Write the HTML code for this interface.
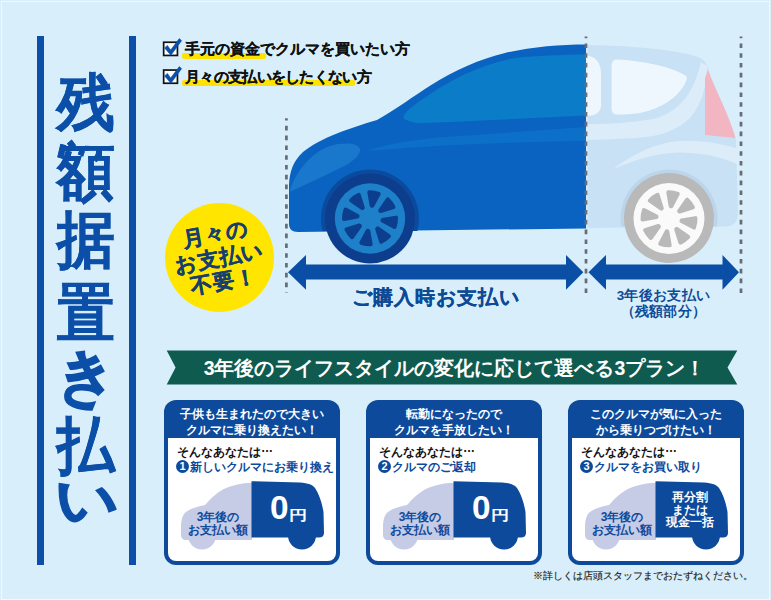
<!DOCTYPE html>
<html lang="ja">
<head>
<meta charset="utf-8">
<style>
html,body{margin:0;padding:0;}
body{width:771px;height:600px;position:relative;overflow:hidden;background:#d8effb;font-family:"Liberation Sans",sans-serif;}
.abs{position:absolute;}
.frame{position:absolute;left:1px;top:1px;width:769px;height:599px;border:1px solid #eafafd;box-sizing:border-box;}
.bar{position:absolute;top:36px;width:7px;height:529px;background:#0b4fa8;}
.title{position:absolute;left:52px;top:69px;width:68px;font-size:62px;line-height:68.5px;transform:scaleX(0.93);transform-origin:34px 0;-webkit-text-stroke:0.5px #0b4fa8;font-weight:bold;color:#0b4fa8;text-align:center;}
.hl{position:absolute;background:#ffe300;height:5.5px;border-radius:2px;}
.ln{position:absolute;left:185px;font-size:15px;font-weight:bold;color:#111;-webkit-text-stroke:0.2px #111;white-space:nowrap;line-height:18px;}
.card{position:absolute;top:400px;width:176px;height:164.5px;border-radius:12px;background:#0d4a9c;}
.card .wb{position:absolute;left:4px;top:37.5px;right:4px;bottom:4px;background:#fff;border-radius:0 0 8px 8px;}
.card .hd{position:absolute;left:0;top:0;width:100%;height:34px;color:#fff;font-size:12px;font-weight:bold;line-height:15.5px;text-align:center;padding-top:7px;box-sizing:border-box;}
.card .t1{position:absolute;left:13px;top:43.5px;font-size:12px;font-weight:bold;color:#111;white-space:nowrap;line-height:16px;}
.card .t2{position:absolute;left:12px;top:58.5px;font-size:12px;font-weight:bold;color:#0d4a9c;white-space:nowrap;line-height:16px;}
.num{display:inline-block;width:13px;height:13px;border-radius:50%;background:#0d4a9c;color:#fff;font-size:11px;line-height:13px;text-align:center;vertical-align:1px;margin-right:1px;}
.zero{position:absolute;font-size:34px;font-weight:bold;color:#fff;line-height:34px;transform:scaleX(0.98);transform-origin:0 0;}
.yen{position:absolute;font-size:14px;font-weight:bold;color:#fff;line-height:14px;transform:translateY(1px) scaleX(1.3);transform-origin:0 0;}
.lav{position:absolute;font-size:12px;font-weight:bold;color:#0d4a9c;line-height:12px;text-align:center;white-space:nowrap;}
</style>
</head>
<body>
<div class="frame"></div>

<!-- title -->
<div class="bar" style="left:37px"></div>
<div class="bar" style="left:129px"></div>
<div class="title">残<br>額<br>据<br><span style="position:relative;top:4px">置</span><br><span style="-webkit-text-stroke:1.8px #0b4fa8">き</span><br>払<br><span style="display:inline-block;transform:translateY(-14px) scale(1.08,0.85);-webkit-text-stroke:1.8px #0b4fa8">い</span></div>

<!-- check lines -->
<div class="hl" style="left:182px;top:52.8px;width:84px;height:6.5px;"></div>
<div class="hl" style="left:182px;top:80px;width:173px;"></div>
<svg class="abs" style="left:0;top:0" width="771" height="600" viewBox="0 0 771 600">
  <rect x="163.65" y="42.25" width="13.8" height="13.2" fill="#fff" stroke="#111" stroke-width="1.7"/>
  <rect x="163.65" y="70.05" width="13.8" height="13.2" fill="#fff" stroke="#111" stroke-width="1.7"/>
  <path d="M164.6,47.9 L167.4,45.4 L170.7,50 L179.3,38.6 L181.6,40.7 L170.9,55.3 Z" fill="#0b4fa8" stroke="#0b4fa8" stroke-width="0.6" stroke-linejoin="round"/>
  <path d="M164.6,75.9 L167.4,73.4 L170.7,78 L179.3,66.6 L181.6,68.7 L170.9,83.3 Z" fill="#0b4fa8" stroke="#0b4fa8" stroke-width="0.6" stroke-linejoin="round"/>
</svg>
<div class="ln" style="top:40px">手元の資金でクルマを買いたい方</div>
<div class="ln" style="top:67.5px;letter-spacing:-0.7px">月々の支払いをしたくない方</div>

<!-- car -->
<svg class="abs" style="left:0;top:0" width="771" height="600" viewBox="0 0 771 600">
  <!-- rear body -->
  <path d="M585,45 C630,45.5 680,50 698,57 C703,59 706,62 708,68 C715,90 728,112 736,140 L738,214 C738,222 733,226.5 726,226.5 L585,228 Z" fill="#c8e1f5"/>
  <path d="M586,124.2 C615,124 638,122 655,118.5 C678,112 694,94 701,62 L707,66 C707,85 702,104 690,118 C676,131 660,135.5 648,136.7 C630,138.5 610,139.5 586,139.8 Z" fill="#dcedf9"/>
  <path d="M613,169 C635,153 655,143 680,141 C705,140 725,145 739,149 L739,165 C725,158 705,153 680,152.5 C655,153 635,160 613,169 Z" fill="#dcedf9"/>
  <path d="M617,59.5 C645,61 672,67 686,76 C688,78 686,82 683,87 C676,98 662,108 640,113 C630,114.5 622,114.5 617,114.5 C613.5,114.5 611.5,112 611.5,108 L611.5,66 C611.5,62 613.5,59.5 617,59.5 Z" fill="#eef7fd"/>
  <path d="M586,55 C596,57 601,62 601,75 L601,105 C601,112 596,116 586,116 Z" fill="#eef7fd"/>
  <path d="M708,70 C716,92 728,112 735.5,138 L705,135 L705,78 Z" fill="#f2b6c2"/>
  <!-- rear wheel -->
  <clipPath id="archclip2"><rect x="600" y="150" width="150" height="76.5"/></clipPath>
  <circle cx="669" cy="218" r="48.5" fill="#bdd5ea" clip-path="url(#archclip2)"/>
  <circle cx="669" cy="218" r="45" fill="#b9b9b9"/>
  <circle cx="669" cy="218.5" r="35.5" fill="#fafafa"/>
  <path d="M671.3,206.3 L677.8,193.8 A26.5,26.5 0 0 0 668.3,192.3 L670.7,206.2 Z M661.8,208.3 L657.6,194.9 A26.5,26.5 0 0 0 649.8,200.6 L661.3,208.7 Z M656.5,216.5 L644.0,210.0 A26.5,26.5 0 0 0 642.5,219.5 L656.4,217.1 Z M658.5,226.0 L645.1,230.2 A26.5,26.5 0 0 0 650.8,238.0 L658.9,226.5 Z M666.7,231.3 L660.2,243.8 A26.5,26.5 0 0 0 669.7,245.3 L667.3,231.4 Z M676.2,229.3 L680.4,242.7 A26.5,26.5 0 0 0 688.2,237.0 L676.7,228.9 Z M681.5,221.1 L694.0,227.6 A26.5,26.5 0 0 0 695.5,218.1 L681.6,220.5 Z M679.5,211.6 L692.9,207.4 A26.5,26.5 0 0 0 687.2,199.6 L679.1,211.1 Z" fill="#b9b9b9" stroke="#b9b9b9" stroke-width="4" stroke-linejoin="round"/>

  <!-- front body -->
  <path d="M586,44.5 C560,44.5 530,47 505,53 C480,59 455,70 430,85.7 C415,95 395,110 377,120 C350,128 320,138 303,152 C293,161 289.5,172 289,185 L289,224 C289,229 292,232 298,232 L586,228.4 Z" fill="#0a63c0"/>
  <path d="M586,54.4 C560,54.5 535,56 519,57.4 C500,60 480,67 459.5,76.8 C440,87 420,100 408.8,109.6 C404,114 402,118 405,119.5 C410,122 415,123 421,123.3 L586,115.6 Z" fill="#0b7cc8"/>
  <path d="M366,151 C390,143 420,139 445,137 L586,127 L586,141 C520,142 460,144 420,147 C400,148.5 380,150 366,151 Z" fill="#0c70c9"/>
  <path d="M289.5,192 C295,172 312,152 330,146 C345,142 357,143 360,149 C361,155 352,163 338,169 C322,177 302,186 289.5,192 Z" fill="#1a78cc"/>
  <!-- front wheel -->
  <clipPath id="archclip"><rect x="300" y="150" width="150" height="81"/></clipPath>
  <circle cx="370" cy="218.5" r="49" fill="#0b4b9e" clip-path="url(#archclip)"/>
  <circle cx="370" cy="218.5" r="45" fill="#0c3e8d"/>
  <circle cx="370" cy="218.5" r="35.2" fill="#1e80c8"/>
  <path d="M372.3,205.8 L378.7,193.8 A26.0,26.0 0 0 0 369.3,192.3 L371.7,205.7 Z M362.8,207.8 L358.8,194.8 A26.0,26.0 0 0 0 351.1,200.4 L362.3,208.2 Z M357.5,216.0 L345.5,209.6 A26.0,26.0 0 0 0 344.0,219.0 L357.4,216.6 Z M359.5,225.5 L346.5,229.5 A26.0,26.0 0 0 0 352.1,237.2 L359.9,226.0 Z M367.7,230.8 L361.3,242.8 A26.0,26.0 0 0 0 370.7,244.3 L368.3,230.9 Z M377.2,228.8 L381.2,241.8 A26.0,26.0 0 0 0 388.9,236.2 L377.7,228.4 Z M382.5,220.6 L394.5,227.0 A26.0,26.0 0 0 0 396.0,217.6 L382.6,220.0 Z M380.5,211.1 L393.5,207.1 A26.0,26.0 0 0 0 387.9,199.4 L380.1,210.6 Z" fill="#0c3e8d" stroke="#0c3e8d" stroke-width="4" stroke-linejoin="round"/>

  <line x1="587" y1="46" x2="587" y2="227.5" stroke="#dff2fc" stroke-width="1"/>
  <!-- dotted lines -->
  <g stroke="#666c74" stroke-width="2.7" stroke-dasharray="4.6 5.2">
    <line x1="286.4" y1="118.3" x2="286.4" y2="293" stroke-dashoffset="2.3"/>
    <line x1="586" y1="36.5" x2="586" y2="293" stroke-dashoffset="2.9"/>
    <line x1="741" y1="36.5" x2="741" y2="293" stroke-dashoffset="2.9"/>
  </g>

  <!-- arrows -->
  <path d="M288,272.3 L306,255 L306,264.5 L566,264.5 L566,255 L583.3,272.3 L566,289.8 L566,279.5 L306,279.5 L306,289.8 Z" fill="#0a4ea6"/>
  <path d="M588.5,272.3 L606,255 L606,264.5 L722.5,264.5 L722.5,255 L739,272.3 L722.5,289.8 L722.5,279.5 L606,279.5 L606,289.8 Z" fill="#0a4ea6"/>

  <!-- yellow badge -->
  <circle cx="219.5" cy="257.5" r="54.5" fill="#ffe500"/>

  <!-- banner -->
  <path d="M166.7,350.4 L737.3,350.4 L727.5,367.5 L737.3,384.6 L166.7,384.6 L175.6,367.5 Z" fill="#0f5b50"/>
</svg>

<div class="abs" style="left:288px;width:296px;top:285px;text-align:center;font-size:20px;font-weight:bold;color:#0d4a96;line-height:24px;letter-spacing:1.1px;-webkit-text-stroke:0.25px #0d4a96;">ご購入時お支払い</div>
<div class="abs" style="left:588px;width:151px;top:288px;text-align:center;font-size:13.5px;font-weight:bold;color:#0d4a96;line-height:16px;letter-spacing:0.3px;">3年後お支払い<br>（残額部分）</div>

<div class="abs" style="left:165px;top:203px;width:109px;height:109px;transform:rotate(-10deg);text-align:center;font-size:21.5px;font-weight:bold;color:#173f6e;line-height:24px;padding-top:19px;-webkit-text-stroke:0.35px #173f6e;letter-spacing:0px;box-sizing:border-box;">月々の<br>お支払い<br>不要！</div>

<div class="abs" style="left:169px;width:571px;top:355px;text-align:center;font-size:19.5px;font-weight:bold;color:#fff;line-height:26px;">3年後のライフスタイルの変化に応じて選べる3プラン！</div>

<!-- cards -->
<div class="card" style="left:164px;">
  <div class="wb"></div><div class="hd">子供も生まれたので大きい<br>クルマに乗り換えたい！</div>
  <div class="t1">そんなあなたは<span style="position:relative;top:-3.5px">…</span></div>
  <div class="t2"><span class="num">1</span>新しいクルマにお乗り換え</div>
</div>
<div class="card" style="left:366px;">
  <div class="wb"></div><div class="hd">転勤になったので<br>クルマを手放したい！</div>
  <div class="t1">そんなあなたは<span style="position:relative;top:-3.5px">…</span></div>
  <div class="t2"><span class="num">2</span>クルマのご返却</div>
</div>
<div class="card" style="left:568px;">
  <div class="wb"></div><div class="hd">このクルマが気に入った<br>から乗りつづけたい！</div>
  <div class="t1">そんなあなたは<span style="position:relative;top:-3.5px">…</span></div>
  <div class="t2"><span class="num">3</span>クルマをお買い取り</div>
</div>


<svg class="abs" style="left:0;top:0" width="771" height="600" viewBox="0 0 771 600">
  <defs>
    <g id="sil">
      <path d="M252,482.7 C240,483 225,486 215,495 C210,499 207,503 205,505 C195,507 187,510 184,514 C181.5,518 181,522 181,527 L181,535 C181,538 183,540 186,540 L252,540 Z" fill="#c6cbe6"/>
      <circle cx="202" cy="535.5" r="14" fill="#c6cbe6"/>
      <path d="M251.5,481.2 L300,482.5 C308,483 313,485 315,488 C319,494 322,503 323.5,512 L324,533 C324,536 322,537.5 319,537.5 L251.5,537.5 Z" fill="#0d4a9c"/>
      <circle cx="302" cy="535.5" r="14" fill="#0d4a9c"/>
    </g>
  </defs>
  <use href="#sil"/>
  <use href="#sil" transform="translate(202,0)"/>
  <use href="#sil" transform="translate(404,0)"/>
</svg>
<div class="lav" style="left:178px;width:80px;top:511px;">3年後の</div>
<div class="lav" style="left:178px;width:80px;top:523.5px;">お支払い額</div>
<div class="lav" style="left:380px;width:80px;top:511px;">3年後の</div>
<div class="lav" style="left:380px;width:80px;top:523.5px;">お支払い額</div>
<div class="lav" style="left:582px;width:80px;top:511px;">3年後の</div>
<div class="lav" style="left:582px;width:80px;top:523.5px;">お支払い額</div>
<div class="zero" style="left:269.5px;top:490px;">0</div><div class="yen" style="left:289px;top:507px;">円</div>
<div class="zero" style="left:471.5px;top:490px;">0</div><div class="yen" style="left:491px;top:507px;">円</div>
<div class="abs" style="left:650px;width:80px;top:491px;text-align:center;font-size:12px;font-weight:bold;color:#fff;line-height:12.5px;">再分割<br>または<br>現金一括</div>
<div class="abs" style="left:508px;width:245px;top:569px;text-align:right;font-size:9.8px;color:#222;line-height:13px;white-space:nowrap;-webkit-text-stroke:0.15px #222;">※詳しくは店頭スタッフまでおたずねください。</div>
</body>
</html>
